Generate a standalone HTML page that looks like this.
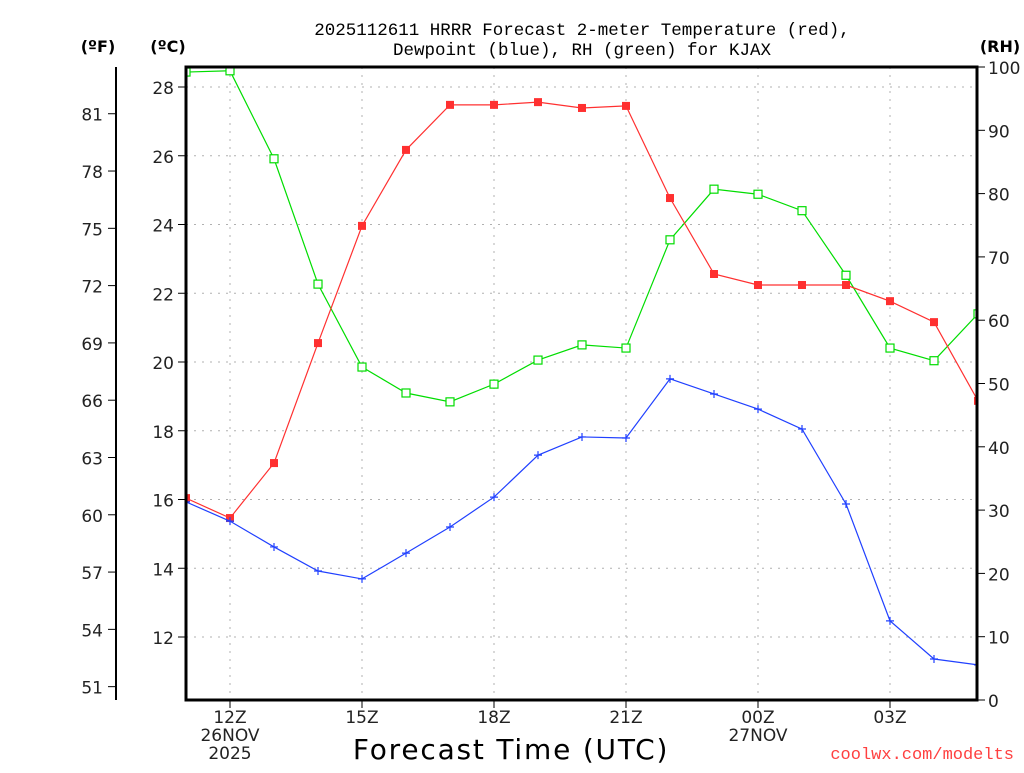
<!DOCTYPE html>
<html><head><meta charset="utf-8"><style>
body{margin:0;background:#fff;}
svg text{font-family:"DejaVu Sans","Liberation Sans",sans-serif;}
</style></head><body>
<svg id="chart" width="1024" height="768" xmlns="http://www.w3.org/2000/svg">
<defs><clipPath id="plotclip"><rect x="186" y="67" width="791" height="633"/></clipPath></defs>
<g id="grid"></g>
<g id="series" clip-path="url(#plotclip)"></g>
<g id="axes"></g>
<text x="582" y="35" text-anchor="middle" font-size="17.5" style="font-family:'Liberation Mono',monospace">2025112611 HRRR Forecast 2-meter Temperature (red),</text>
<text x="582" y="55" text-anchor="middle" font-size="17.5" style="font-family:'Liberation Mono',monospace">Dewpoint (blue), RH (green) for KJAX</text>
<text x="98" y="52" text-anchor="middle" font-size="16" font-weight="bold">(ºF)</text>
<text x="168" y="52" text-anchor="middle" font-size="16" font-weight="bold">(ºC)</text>
<text x="1000" y="52" text-anchor="middle" font-size="16" font-weight="bold">(RH)</text>
<text x="511" y="759" text-anchor="middle" font-size="28" letter-spacing="1.8">Forecast Time (UTC)</text>
<text x="1014" y="759" text-anchor="end" font-size="17" fill="#ff4040" style="font-family:'Liberation Mono',monospace">coolwx.com/modelts</text>
</svg>
<script>
const hours=[11,12,13,14,15,16,17,18,19,20,21,22,23,24,25,26,27,28,29];
const tempC=[16.04,15.46,17.06,20.55,23.96,26.17,27.48,27.48,27.56,27.39,27.45,24.77,22.56,22.24,22.24,22.24,21.77,21.16,18.87];
const dewC=[15.93,15.37,14.62,13.92,13.69,14.44,15.2,16.07,17.29,17.82,17.79,19.51,19.07,18.63,18.05,15.87,12.47,11.36,11.19];
const rh=[99.2,99.4,85.5,65.7,52.6,48.5,47.1,49.9,53.7,56.1,55.6,72.7,80.7,79.9,77.3,67.1,55.6,53.6,61.0];
const cTicks=[12,14,16,18,20,22,24,26,28];
const fTicks=[51,54,57,60,63,66,69,72,75,78,81];
const rhTicks=[0,10,20,30,40,50,60,70,80,90,100];
const xTickHours=[12,15,18,21,24,27];
const xTickLabels=["12Z","15Z","18Z","21Z","00Z","03Z"];
const xTickSub=[["26NOV","2025"],[],[],[],["27NOV"],[]];
const NS="http://www.w3.org/2000/svg";
const L=186,R=977,T=67,B=700;
const xs=h=>L+(h-11)*44;
const yC=c=>87+(28-c)*34.375;
const yF=f=>yC((f-32)*5/9);
const yR=r=>B-(r/100)*(B-T);
function mk(tag,attrs,parent){const e=document.createElementNS(NS,tag);for(const k in attrs)e.setAttribute(k,attrs[k]);parent.appendChild(e);return e;}
const grid=document.getElementById('grid'),axes=document.getElementById('axes'),ser=document.getElementById('series');
cTicks.forEach(c=>{const y=yC(c);
 const g=mk('line',{x1:L,x2:R,y1:y,y2:y,stroke:'#b0b0b0','stroke-dasharray':'2,6'},grid);
 
 const t=mk('line',{x1:L-8,x2:L,y1:y,y2:y,stroke:'#000'},axes);
 
 const tx=mk('text',{x:L-12,y:y+7,'text-anchor':'end','font-size':'17',fill:'#222'},axes);tx.textContent=c;
 
});
xTickHours.forEach((h,i)=>{const x=xs(h);
 const g=mk('line',{x1:x,x2:x,y1:T,y2:B,stroke:'#b0b0b0','stroke-dasharray':'2,6'},grid);
 
 const t=mk('line',{x1:x,x2:x,y1:B,y2:B+8,stroke:'#000'},axes);
 
 [xTickLabels[i]].concat(xTickSub[i]).forEach((s,j)=>{const tx=mk('text',{x:x,y:B+23+j*18,'text-anchor':'middle','font-size':'17',fill:'#222'},axes);tx.textContent=s;
 });
});
fTicks.forEach(f=>{const y=yF(f);
 const t=mk('line',{x1:108,x2:116,y1:y,y2:y,stroke:'#000'},axes);
 
 const tx=mk('text',{x:103,y:y+7,'text-anchor':'end','font-size':'17',fill:'#222'},axes);tx.textContent=f;
 
});
rhTicks.forEach(r=>{const y=yR(r);
 const t=mk('line',{x1:R,x2:R+8,y1:y,y2:y,stroke:'#000'},axes);
 
 const tx=mk('text',{x:R+11,y:y+7,'font-size':'17',fill:'#222'},axes);tx.textContent=r;
 
});
const fa=mk('line',{x1:116,x2:116,y1:T,y2:B,stroke:'#000','stroke-width':2},axes);

const fr=mk('rect',{x:L,y:T,width:R-L,height:B-T,fill:'none',stroke:'#000','stroke-width':3},axes);

function series(vals,yf,color,marker,name){
 const pts=vals.map((v,i)=>xs(hours[i])+','+yf(v)).join(' ');
 const pl=mk('polyline',{points:pts,fill:'none',stroke:color,'stroke-width':1.2},ser);
 
 vals.forEach((v,i)=>{const x=xs(hours[i]),y=yf(v);let m;
  if(marker==='fill'){m=mk('rect',{x:x-4,y:y-4,width:8,height:8,fill:color},ser);}
  else if(marker==='open'){m=mk('rect',{x:x-4,y:y-4,width:8,height:8,fill:'#fff',stroke:color,'stroke-width':1.2},ser);}
  else{m=mk('path',{d:`M${x-4} ${y}H${x+4}M${x} ${y-4}V${y+4}`,stroke:color,'stroke-width':1.2},ser);}
  
 });
}
series(rh,yR,'#00dd00','open','rh');
series(tempC,yC,'#ff3030','fill','temperature');
series(dewC,yC,'#2040ff','plus','dewpoint');
</script>
</body></html>
